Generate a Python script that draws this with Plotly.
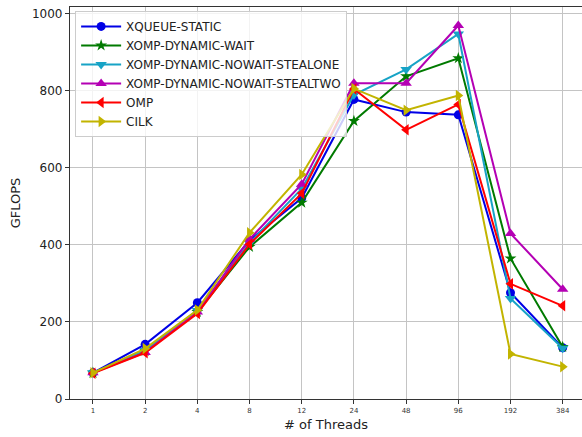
import plotly.graph_objects as go

threads = ["1", "2", "4", "8", "12", "24", "48", "96", "192", "384"]

xqueue_static = [68, 142, 250, 412, 522, 778, 745, 738, 276, 133]
xomp_dynamic_wait = [68, 125, 226, 395, 510, 722, 838, 885, 365, 135]
xomp_nowait_stealone = [68, 126, 230, 405, 546, 790, 856, 948, 261, 132]
xomp_nowait_stealtwo = [68, 121, 226, 415, 558, 820, 820, 970, 430, 285]
omp = [67, 120, 222, 402, 534, 805, 699, 765, 299, 242]
cilk = [68, 131, 231, 432, 583, 806, 750, 788, 117, 84]

series = [
    ("XQUEUE-STATIC", xqueue_static, "#0000e6", "circle", 9),
    ("XOMP-DYNAMIC-WAIT", xomp_dynamic_wait, "#007a00", "star", 9),
    ("XOMP-DYNAMIC-NOWAIT-STEALONE", xomp_nowait_stealone, "#17a3c6", "triangle-down", 10),
    ("XOMP-DYNAMIC-NOWAIT-STEALTWO", xomp_nowait_stealtwo, "#b400b4", "triangle-up", 10),
    ("OMP", omp, "#ff0000", "triangle-left", 10),
    ("CILK", cilk, "#c2b400", "triangle-right", 10),
]

fig = go.Figure()
for name, vals, color, sym, sz in series:
    fig.add_trace(go.Scatter(
        x=threads, y=vals, name=name, mode="lines+markers",
        line=dict(color=color, width=2),
        marker=dict(symbol=sym, size=sz, color=color),
    ))

fig.update_layout(
    width=582, height=437,
    margin=dict(l=70, r=0, t=7, b=38, autoexpand=False),
    paper_bgcolor="white", plot_bgcolor="white",
    font=dict(family="DejaVu Sans", color="#222", size=12),
    showlegend=True,
    legend=dict(
        x=0.01, y=0.99, xanchor="left", yanchor="top",
        bgcolor="rgba(255,255,255,0.8)", bordercolor="#cccccc", borderwidth=1,
        font=dict(size=12, color="#222"), tracegroupgap=0, itemwidth=40,
    ),
    xaxis=dict(
        type="category", range=[-0.44, 9.37], automargin=False,
        showgrid=True, gridcolor="#c4c4c4", gridwidth=1,
        showline=True, linecolor="#333", linewidth=1.2, mirror=True,
        ticks="outside", ticklen=4, tickcolor="#333",
        tickfont=dict(size=7, color="#333"),
        title=dict(text="# of Threads", font=dict(size=13), standoff=6),
        zeroline=False,
    ),
    yaxis=dict(
        range=[0, 1018], automargin=False,
        tickvals=[0, 200, 400, 600, 800, 1000],
        showgrid=True, gridcolor="#c4c4c4", gridwidth=1,
        showline=True, linecolor="#333", linewidth=1.2,
        ticks="outside", ticklen=4, tickcolor="#333",
        tickfont=dict(size=12, color="#222"),
        title=dict(text="GFLOPS", font=dict(size=13), standoff=8),
        zeroline=False,
    ),
)

fig.write_html("out.html", config={"displayModeBar": False},
               post_script="document.body.style.margin='0px';")
